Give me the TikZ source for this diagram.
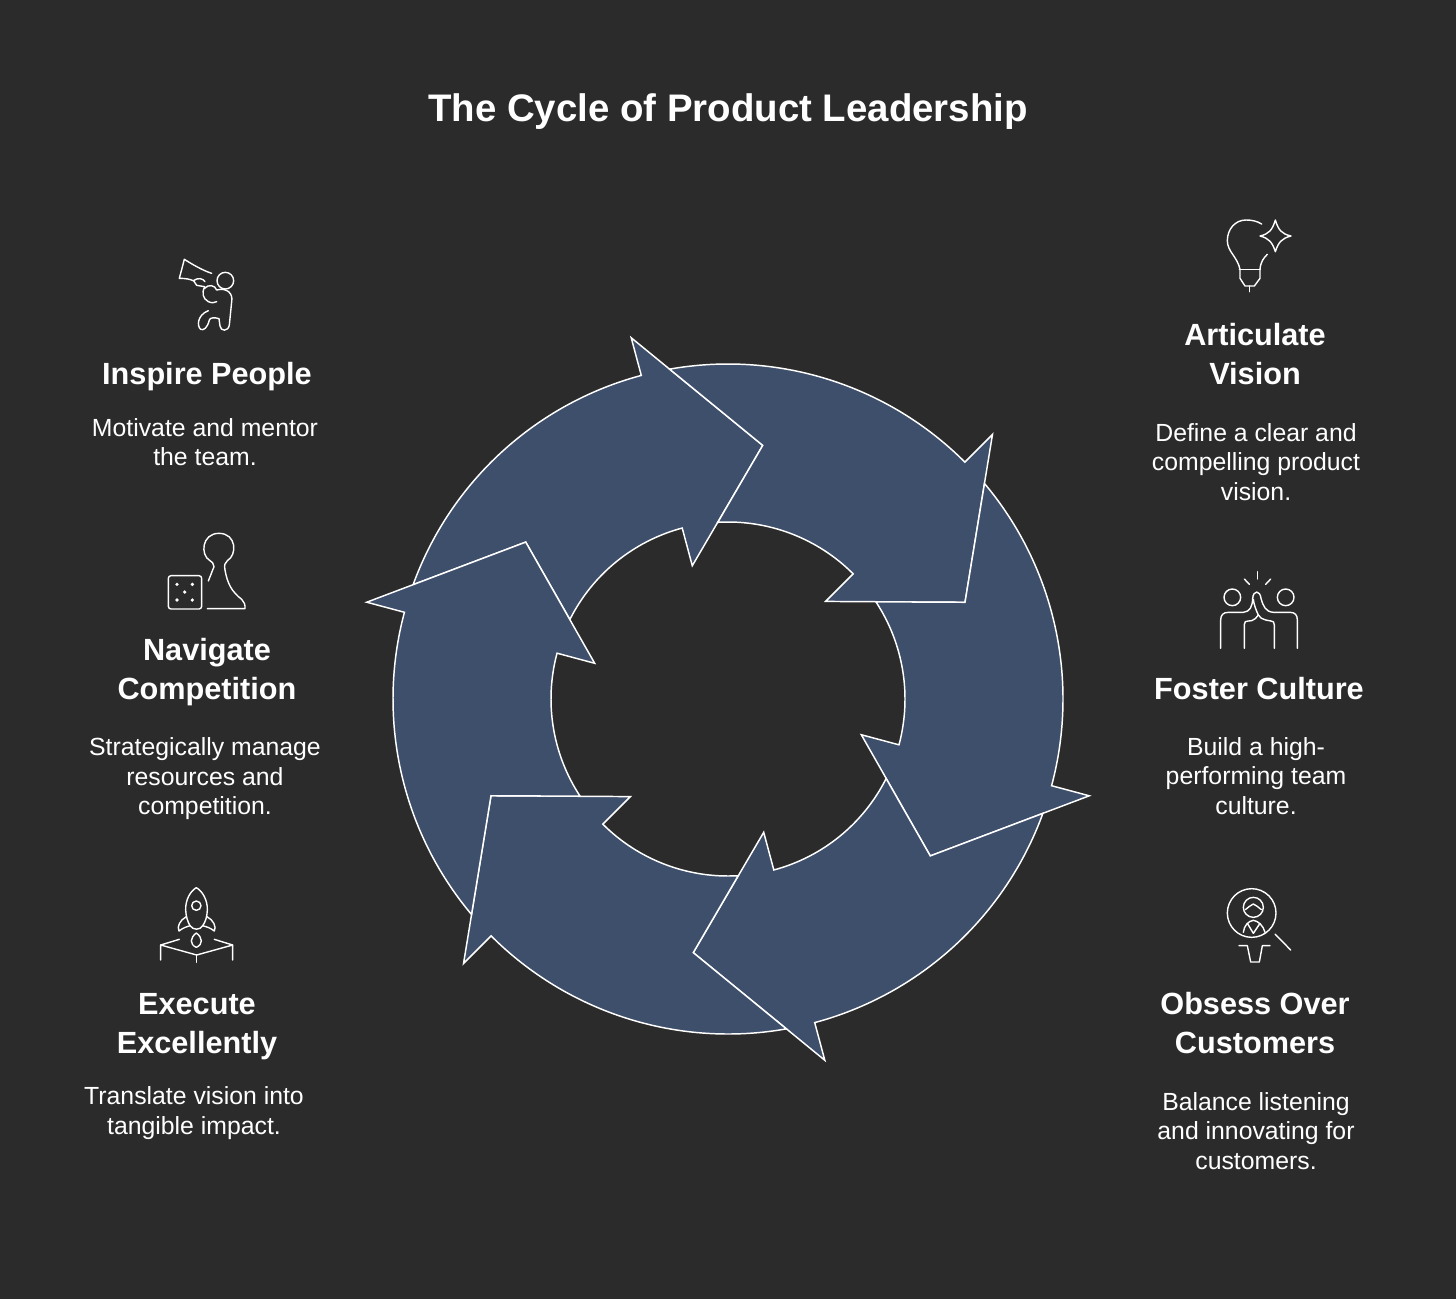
\documentclass[tikz,border=0pt]{standalone}
\usepackage{fontspec}
\setmainfont{Liberation Sans}
\usetikzlibrary{arrows.meta,positioning}
\definecolor{Canvas}{HTML}{2B2B2B}
\definecolor{RingBlue}{HTML}{3E4F6B}
\definecolor{Ink}{HTML}{FFFFFF}
\tikzset{
  cycletitle/.style={text=Ink,font=\fontsize{28.8}{36}\bfseries\selectfont,align=center},
  headtext/.style={text=Ink,font=\fontsize{23}{29.3}\bfseries\selectfont,align=center},
  bodytext/.style={text=Ink,font=\fontsize{18.6}{22.1}\selectfont,align=center},
  iconline/.style={draw=Ink,line width=1.05pt,line cap=round,line join=round,x=0.25pt,y=-0.25pt},
  ringarrow/.style={fill=RingBlue,draw=Ink,line width=1.1pt,line join=miter}
}

\begin{document}
\begin{tikzpicture}[x=0.75pt,y=-0.75pt]
  \fill[Canvas] (0,0) rectangle (1456,1299);
  \useasboundingbox (0,0) rectangle (1456,1299);

  \node[cycletitle] (title) at (728,112) {The Cycle of Product Leadership};

  \begin{scope}[shift={(728,699)}]
    \foreach \ang in {-105,-45,15,75,135,195}{
      \draw[ringarrow] ({\ang-55.04}:335) arc[start angle=\ang-55.04,end angle=\ang,radius=335]
        -- (\ang:374) -- ({\ang+22.8}:256) -- (\ang:138) -- (\ang:177)
        arc[start angle=\ang,end angle=\ang-48.3,radius=177]
        -- ({\ang-37.2}:256) -- cycle;
    }
  \end{scope}

  \node[headtext] (inspirehead) at (207,377) {Inspire People};
  \node[bodytext] (inspirebody) at (205,442) {Motivate and mentor\\the team.};
  \node[headtext] (navigatehead) at (207,672) {Navigate\\Competition};
  \node[bodytext] (navigatebody) at (205,779) {Strategically manage\\resources and\\competition.};
  \node[headtext] (executehead) at (197,1027) {Execute\\Excellently};
  \node[bodytext] (executebody) at (194,1113) {Translate vision into\\tangible impact.};
  \node[headtext] (visionhead) at (1255,354) {Articulate\\Vision};
  \node[bodytext] (visionbody) at (1256,462) {Define a clear and\\compelling product\\vision.};
  \node[headtext] (culturehead) at (1259,689) {Foster Culture};
  \node[bodytext] (culturebody) at (1256,776) {Build a high-\\performing team\\culture.};
  \node[headtext] (customerhead) at (1255,1023) {Obsess Over\\Customers};
  \node[bodytext] (customerbody) at (1256,1131) {Balance listening\\and innovating for\\customers.};

  \begin{scope}[shift={(150,240)},iconline]
    \draw (103,58) .. controls (130,75) and (160,92) .. (185,100);
    \draw (103,58) -- (88,115) .. controls (105,115) and (120,117) .. (132,123);
    \draw (130,122) .. controls (145,112) and (158,115) .. (165,125);
    \draw (132,124) -- (140,136) -- (164,140);
    \draw (226,122) circle[radius=25];
    \draw (164,140) .. controls (155,160) and (158,175) .. (175,185)
      .. controls (185,190) and (195,188) .. (200,185);
    \draw (164,145) .. controls (175,132) and (195,135) .. (200,150)
      .. controls (230,142) and (250,160) .. (245,185)
      -- (238,255) .. controls (235,275) and (212,275) .. (210,258)
      -- (207,236) .. controls (195,232) and (180,232) .. (178,240)
      .. controls (172,265) and (160,272) .. (152,268)
      .. controls (140,258) and (142,225) .. (175,212);
  \end{scope}

  \begin{scope}[shift={(150,520)},iconline]
    \draw[rounded corners=2pt] (55,167) rectangle (155,267);
    \foreach \dotx/\doty in {81/193,127/193,104/216,81/240,127/240}{
      \fill[Ink] (\dotx,\doty) circle[radius=5.5];
    }
    \draw (175,183) -- (192,140) .. controls (192,130) and (185,125) .. (180,122)
      .. controls (150,105) and (155,40) .. (207,40)
      .. controls (260,40) and (262,105) .. (232,122)
      .. controls (225,128) and (222,135) .. (225,150)
      .. controls (232,190) and (245,215) .. (275,238)
      .. controls (283,245) and (286,255) .. (285,266) -- (172,266);
  \end{scope}

  \begin{scope}[shift={(145,875)},iconline]
    \draw (154,38) .. controls (136,48) and (121,75) .. (122,105)
      .. controls (123,125) and (128,140) .. (135,152)
      .. controls (145,166) and (165,166) .. (173,152)
      .. controls (182,140) and (186,125) .. (187,105)
      .. controls (188,75) and (172,48) .. (154,38);
    \draw (154,92) circle[radius=14];
    \draw (124,125) .. controls (105,135) and (95,155) .. (102,168)
      .. controls (115,158) and (125,155) .. (135,152);
    \draw (186,125) .. controls (205,135) and (215,155) .. (208,168)
      .. controls (195,158) and (185,155) .. (173,152);
    \draw (154,174) .. controls (135,188) and (133,208) .. (154,217)
      .. controls (175,208) and (173,188) .. (154,174);
    \draw (47,255) -- (47,210) -- (155,240) -- (263,210) -- (263,255);
    \draw (47,210) -- (103,193);
    \draw (263,210) -- (208,193);
    \draw (155,240) -- (155,262);
  \end{scope}

  \begin{scope}[shift={(1210,210)},iconline]
    \draw (155,42) .. controls (140,33) and (125,30) .. (108,30)
      .. controls (75,30) and (52,58) .. (52,92)
      .. controls (52,125) and (82,140) .. (90,178);
    \draw (172,133) .. controls (160,145) and (152,155) .. (150,178);
    \draw (88,178) -- (150,178);
    \draw (90,178) -- (90,205) -- (105,228) -- (133,228) -- (150,205) -- (150,178);
    \draw (119,228) -- (119,245);
    \draw (196,30) .. controls (205,60) and (215,72) .. (243,78)
      .. controls (215,85) and (205,97) .. (196,125)
      .. controls (187,97) and (177,85) .. (150,78)
      .. controls (177,72) and (187,60) .. (196,30);
  \end{scope}

  \begin{scope}[shift={(1205,565)},iconline]
    \draw (82,97) circle[radius=25];
    \draw (242,97) circle[radius=25];
    \draw (157,20) -- (157,42);
    \draw (118,42) -- (133,58);
    \draw (197,42) -- (182,58);
    \draw (47,250) -- (47,165) .. controls (47,150) and (55,142) .. (70,142)
      -- (115,142) .. controls (135,140) and (142,125) .. (143,100)
      .. controls (145,75) and (165,75) .. (168,100)
      .. controls (175,125) and (182,140) .. (205,142)
      -- (255,142) .. controls (270,142) and (277,150) .. (277,165) -- (277,250);
    \draw (118,250) -- (118,178) .. controls (118,170) and (122,168) .. (130,168)
      -- (140,167) .. controls (148,165) and (155,158) .. (160,150)
      .. controls (153,135) and (147,120) .. (145,103);
    \draw (208,250) -- (208,180) .. controls (208,172) and (205,168) .. (198,168)
      -- (182,165) .. controls (172,163) and (165,158) .. (160,150);
  \end{scope}

  \begin{scope}[shift={(1210,875)},iconline]
    \draw (125,114) circle[radius=73];
    \draw (195,177) -- (242,225);
    \draw (130,97) circle[radius=30];
    \draw (106,104) .. controls (115,97) and (122,90) .. (130,87)
      .. controls (138,90) and (145,97) .. (154,104);
    \draw (100,172) .. controls (102,152) and (115,138) .. (130,136)
      .. controls (145,138) and (160,152) .. (165,172);
    \draw (112,145) -- (130,175) -- (150,145);
    \draw (87,212) -- (112,212) -- (122,261) -- (148,261) -- (157,212) -- (180,212);
  \end{scope}
\end{tikzpicture}
\end{document}
